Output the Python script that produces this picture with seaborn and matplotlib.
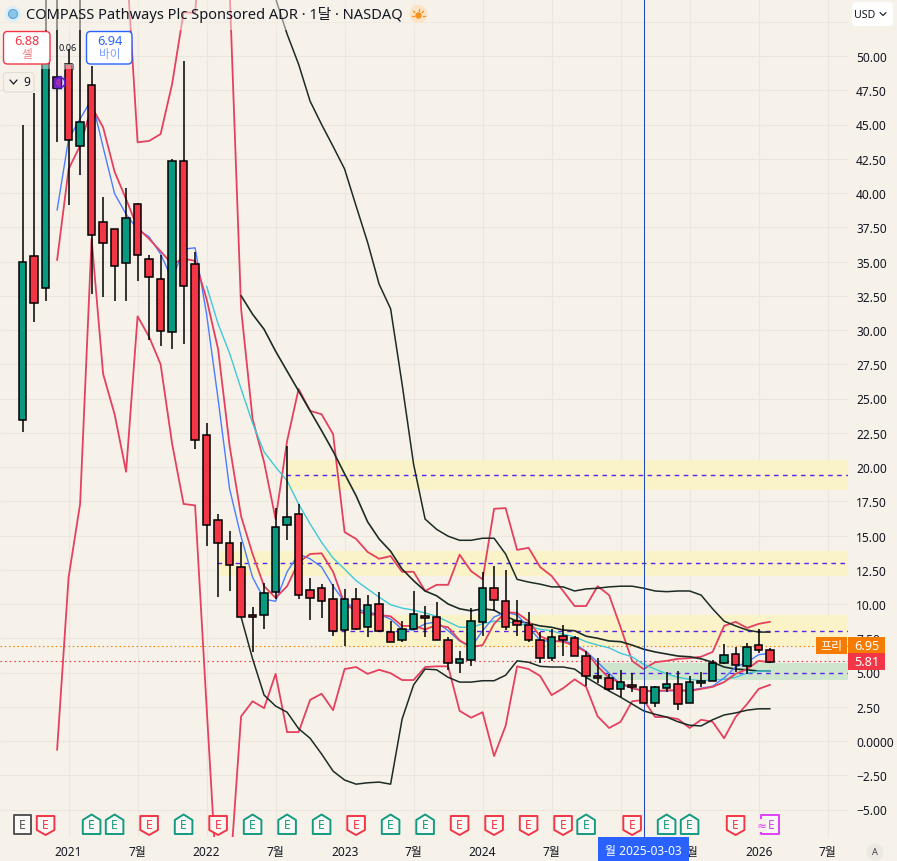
import numpy as np
import pandas as pd
import matplotlib
matplotlib.use("Agg")
import matplotlib.pyplot as plt
from matplotlib.patches import FancyBboxPatch, Polygon, Circle, Rectangle
import seaborn as sns

# ---------- data (prices; month index 0 = Jan 2021) ----------
months = list(range(-4, 62))
opens = [23.43,35.4,33.07,48.5,49.4,43.4,47.9,37.9,37.4,34.9,39.2,35.2,33.7,29.85,42.3,34.8,22.3,16.1,14.45,12.7,
         9.2,9.2,10.9,15.75,16.6,11.0,11.2,10.35,8.1,10.4,8.3,10.0,7.95,7.35,8.15,9.15,9.05,7.4,5.7,5.9,8.7,11.2,
         10.2,8.75,8.45,7.35,6.05,7.7,7.5,6.2,4.75,4.6,3.8,4.1,3.95,2.8,3.9,4.15,2.8,4.25,4.4,5.7,6.35,5.45,7.0,6.65]
highs = [45.0,47.3,70,70,50.5,60,49.3,39.7,37.4,40.4,39.3,35.5,35.5,42.5,49.6,35.7,23.2,16.6,15.3,14.5,
         9.8,11.5,17.0,21.5,17.3,11.9,11.45,11.45,11.1,11.15,10.65,10.85,8.75,8.75,10.95,9.85,10.15,7.6,6.55,9.7,12.3,12.75,
         12.5,10.3,9.4,7.95,8.15,8.5,7.7,6.55,6.05,4.9,5.2,5.0,4.0,4.0,5.05,5.1,4.75,5.05,5.9,7.1,6.85,7.15,8.15,6.8]
lows = [22.55,30.6,32.1,43.7,39.1,41.3,32.6,32.4,32.1,32.1,33.6,29.3,28.8,28.6,29.0,21.3,14.2,10.5,10.95,9.05,
        6.5,8.2,10.4,14.7,10.4,8.85,9.0,7.65,6.95,8.1,7.6,7.95,7.2,7.2,8.1,7.6,7.35,5.2,5.0,5.5,7.65,9.5,
        8.1,7.65,7.2,5.7,5.85,6.2,6.2,4.0,4.2,3.65,3.2,3.6,2.75,2.5,3.6,2.25,2.8,3.95,4.4,5.6,5.05,4.9,6.4,5.7]
closes = [34.96,32.0,50.0,47.7,43.9,45.2,36.9,36.35,34.7,38.2,35.5,33.9,29.9,42.3,33.2,22.0,15.8,14.45,12.85,9.05,
          9.05,10.8,15.6,16.35,10.65,10.45,10.2,8.0,10.35,8.2,9.9,8.0,7.2,8.2,9.3,9.0,7.35,5.7,6.0,8.75,11.2,10.3,
          8.3,8.5,7.35,6.05,7.6,7.4,6.2,4.75,4.6,3.8,4.3,3.95,2.8,3.95,4.15,2.7,4.3,4.4,5.7,6.3,5.55,6.85,6.65,5.8]

nan = float("nan")
black_upper = [nan]*19 + [75,68,60,54.2,51.6,49.4,46.7,45.0,43.4,41.75,39.05,36.4,33.35,31.55,26.05,20.2,16.2,15.45,14.95,14.65,
    14.65,14.8,14.8,13.65,11.8,11.6,11.45,11.25,11.25,10.95,11.1,11.15,11.25,11.3,11.3,11.15,10.95,10.9,10.95,10.95,10.65,
    9.65,8.75,8.4,8.1,7.95,7.95]
black_mid = [nan]*19 + [32.5,31.15,30.05,28.45,27.0,25.55,24.1,22.65,21.15,19.5,17.9,16.0,14.75,13.85,12.55,11.7,10.95,10.6,10.0,9.65,
    9.5,9.65,9.55,9.1,8.75,8.6,8.4,8.3,8.1,8.05,7.65,7.5,7.3,7.25,7.0,6.7,6.5,6.35,6.2,6.15,6.0,5.75,5.4,5.25,5.2,5.1,5.1]
black_lower = [nan]*19 + [9.05,6.0,3.35,2.55,2.1,0.9,0.2,-0.95,-2.2,-2.85,-3.15,-3.05,-3.0,-3.15,1.6,4.1,5.25,5.2,4.65,4.3,
    4.3,4.4,4.4,4.8,5.85,5.75,5.45,5.4,5.4,5.25,4.65,4.15,3.65,3.2,2.7,2.2,1.95,1.75,1.4,1.15,1.1,1.55,1.9,2.05,2.25,2.35,2.35]
red_upper = [nan]*8 + [75,57.4,43.7,43.8,44.3,47.95,53.2,53.15,64,65,54.9,31.55,23.5,20.35,16.2,21.9,25.7,24.1,23.85,22.4,15.25,
    14.75,13.8,13.3,13.5,12.35,12.35,10.95,11.4,11.4,13.6,12.4,11.8,16.95,17.0,13.95,14.1,12.7,12.05,10.95,9.85,9.85,11.3,
    10.65,8.3,5.85,5.25,5.75,5.85,6.0,6.05,6.15,6.5,8.4,8.7,8.25,8.55,8.7]
red_lower = [nan]*3 + [-0.65,11.95,17.3,36.65,26.8,23.85,19.65,31.0,29.5,27.5,21.7,17.3,17.2,2.5,-11.9,-10.2,1.8,2.9,2.4,4.9,0.65,0.65,
    3.0,3.45,2.25,5.25,5.4,4.9,5.2,4.95,4.45,4.45,5.4,5.45,5.45,2.2,1.7,2.1,-1.1,1.1,5.45,5.25,4.75,3.35,3.85,4.5,3.95,1.8,0.95,
    1.4,2.9,3.0,1.75,1.75,1.6,0.95,1.55,1.4,0.2,1.75,2.7,3.8,4.1]
red_ma = [nan]*3 + [35.1,41.75,43.45,46.3,44.8,41.55,39.55,37.45,36.65,35.75,34.8,35.2,35.05,32.25,28.6,21.55,16.4,13.65,11.3,10.45,
    11.3,13.05,13.65,13.7,12.35,10.0,9.5,9.25,9.2,9.1,8.4,8.4,8.15,8.45,8.3,7.35,6.85,7.0,8.55,9.4,9.35,8.75,7.65,7.3,7.25,6.95,
    6.5,5.45,4.6,4.25,3.85,3.65,3.65,3.7,3.7,3.65,3.8,3.95,4.3,4.9,5.25,5.85,5.75]
blue_ma = [nan]*3 + [38.75,43.95,45.4,46.85,43.35,39.95,38.45,37.35,36.8,35.55,33.7,35.9,36.0,31.15,24.95,18.4,14.9,11.95,10.35,10.2,
    12.35,13.65,13.3,12.7,11.3,10.15,9.65,9.4,9.25,8.9,8.15,8.1,8.55,8.7,8.05,7.3,6.85,8.05,9.05,9.4,9.2,8.3,7.35,7.25,7.3,7.1,
    6.55,5.75,4.95,4.15,3.85,3.7,3.65,3.65,3.7,3.7,3.85,4.0,4.6,5.4,5.75,6.3,6.4]
cyan_ma = [nan]*16 + [33.2,30.45,28.3,25.7,23.2,21.1,20.0,19.0,17.3,15.85,14.5,13.35,12.55,11.7,11.1,10.5,9.95,9.7,9.55,9.35,9.1,
    8.7,8.3,8.3,8.55,8.75,8.7,8.6,8.4,8.15,8.05,7.8,7.6,7.25,7.0,6.8,6.4,6.15,5.6,5.25,4.9,4.65,4.5,4.4,4.45,4.5,4.65,4.95,5.1,5.1]

zone_starts = [18.9, 12.9, 22.9, 44.9]
zone_lows = [18.3, 12.05, 6.95, 4.45]
zone_highs = [20.5, 13.85, 9.2, 5.7]
zone_levels = [19.4, 13.0, 8.0, 5.0]
zone_colors = ["#fbf3c8", "#fbf3c8", "#fbf3c8", "#cfe5cd"]

price_pre = 6.95
price_last = 5.81
cross_month = 50
y_ticks = [52.5,50,47.5,45,42.5,40,37.5,35,32.5,30,27.5,25,22.5,20,17.5,15,12.5,10,7.5,5,2.5,0,-2.5,-5]
y_labels = ["","50.00","47.50","45.00","42.50","40.00","37.50","35.00","32.50","30.00","27.50","25.00","22.50",
            "20.00","17.50","15.00","12.50","10.00","7.50","5.00","2.50","0.0000","−2.50","−5.00"]
x_ticks = [0,6,12,18,24,30,36,42,48,54,60,66]
x_labels = ["2021","7월","2022","7월","2023","7월","2024","7월","2025","7월","2026","7월"]
earn_months = [-4,-2,2,4,7,10,13,16,19,22,25,28,31,34,37,40,43,45,49,52,54,58,61]
earn_kinds = ["n","r","g","g","r","g","r","g","g","g","r","g","g","r","r","r","r","g","r","g","g","r","p"]

# ---------- style ----------
BG = "#f6f2ea"; GRID = "#ebe7df"; INK = "#131722"
RED = "#f23645"; GREEN = "#089981"; LINE_RED = "#e5405e"; BLUE = "#2962ff"
sns.set_theme(style="whitegrid", rc={"axes.facecolor": BG, "figure.facecolor": BG, "grid.color": GRID,
                                     "grid.linewidth": 0.75, "axes.edgecolor": BG})
plt.rcParams["font.family"] = ["Noto Sans", "Noto Sans CJK KR", "DejaVu Sans"]

W, H = 897, 862
PANE_R, PANE_B = 848, 838
X0, XS = 68.6, 11.5
fig = plt.figure(figsize=(W/100, H/100), dpi=100)
ax = fig.add_axes([0, (H-PANE_B)/H, PANE_R/W, PANE_B/H])
ax.set_axisbelow(True)
sns.despine(ax=ax, left=True, bottom=True, right=True, top=True)
xr = (PANE_R-X0)/XS

# zones
for s, lo, hi, lv, col in zip(zone_starts, zone_lows, zone_highs, zone_levels, zone_colors):
    ax.add_patch(Rectangle((s, lo), xr - s, hi - lo, facecolor=col, edgecolor="none", zorder=1))
    ax.plot([s, xr], [lv, lv], color="#5a22f0", lw=1.0, dashes=(3.3, 3.2), zorder=1.2)

# dotted price lines
ax.axhline(price_pre, color="#f08a00", lw=0.85, dashes=(1.3, 2.3), zorder=1.3)
ax.axhline(price_last, color=RED, lw=0.85, dashes=(1.3, 2.6), zorder=1.3)

# indicators
series = [(red_upper, LINE_RED, 1.3), (red_lower, LINE_RED, 1.3), (black_upper, "#1c2b26", 1.1),
          (black_mid, "#1c2b26", 1.2), (black_lower, "#1c2b26", 1.1), (cyan_ma, "#3fc9d6", 1.0),
          (blue_ma, "#4a7dff", 1.0), (red_ma, LINE_RED, 1.3)]
for vals, col, lw in series:
    d = pd.DataFrame({"month": months, "price": vals}).dropna()
    sns.lineplot(data=d, x="month", y="price", color=col, linewidth=lw, ax=ax, legend=False,
                 estimator=None, errorbar=None, zorder=2)

# crosshair
ax.axvline(cross_month, color="#2449b0", lw=0.75, zorder=2.5)

# candles
c = pd.DataFrame({"month": months, "o": opens, "h": highs, "l": lows, "c": closes})
cols = [GREEN if b > a else RED for a, b in zip(c.o, c.c)]
ax.vlines(c.month, c.l, c.h, color="black", lw=1.1, zorder=4)
ax.bar(c.month, (c.c - c.o).abs(), bottom=c[["o", "c"]].min(axis=1), width=0.66, color=cols,
       edgecolor="black", linewidth=1.1, zorder=5)

# axes ticks and labels
ax.set_xlabel(""); ax.set_ylabel("")
ax.yaxis.tick_right()
ax.set_yticks(y_ticks); ax.set_yticklabels(y_labels)
ax.set_xticks(x_ticks); ax.set_xticklabels(x_labels)
ax.tick_params(axis="y", length=0, pad=5.8, labelsize=8.6, labelcolor=INK)
ax.tick_params(axis="x", length=0, pad=5.8, labelsize=8.6, labelcolor=INK)
for t, s in zip(ax.get_xticklabels(), x_labels):
    if not s.endswith("월"):
        t.set_fontweight("bold")
ax.set_xlim((0-X0)/XS, xr)
ax.set_ylim((742-PANE_B)/13.7, 742/13.7)

# ---------- overlay in pixel space for chart furniture ----------
ov = fig.add_axes([0, 0, 1, 1], zorder=10)
ov.set_xlim(0, W); ov.set_ylim(H, 0); ov.axis("off"); ov.patch.set_alpha(0)

def box(x0, y0, x1, y1, fc, ec="none", lw=1.0, r=4, z=5):
    ov.add_patch(FancyBboxPatch((x0+r, y0+r), x1-x0-2*r, y1-y0-2*r, boxstyle=f"round,pad={r}",
                                fc=fc, ec=ec, lw=lw, zorder=z))

fig.canvas.draw()
def mx(m):
    return ax.transData.transform((m, 0))[0]
def py(p):
    return H - ax.transData.transform((0, p))[1]

# legend veil and title
ov.add_patch(Rectangle((0, 0), 432, 31, fc=BG, ec="none", alpha=0.5, zorder=2))
ov.add_patch(Circle((13, 15), 8, fc="#dbeef8", ec="none", zorder=3))
ov.add_patch(Circle((13, 15), 4.5, fc="#8cc6e6", ec="#5aa7d6", lw=0.8, zorder=3.1))
ov.text(26, 15, "COMPASS Pathways Plc Sponsored ADR · 1달 · NASDAQ", fontsize=10.55, color=INK, va="center", ha="left", zorder=4)
ov.add_patch(Circle((418.5, 15), 9, fc="#fde3c6", ec="none", zorder=3))
ov.add_patch(Circle((418.5, 16.5), 3.2, fc="#f5921e", ec="none", zorder=3.1))
for a in np.deg2rad([0, 40, 90, 140, 180]):
    ov.plot([418.5+4.5*np.cos(a), 418.5+6.5*np.cos(a)], [16.5-4.5*np.sin(a), 16.5-6.5*np.sin(a)],
            color="#f5921e", lw=1.0, zorder=3.1)

# buy / sell
box(3.5, 32.5, 50, 65, "white", RED, 1.0, 4)
ov.text(26.7, 41.5, "6.88", color=RED, fontsize=9.2, ha="center", va="center", zorder=6, fontweight="medium")
ov.text(26.7, 55.5, "셀", color="#f77c80", fontsize=8.4, ha="center", va="center", zorder=6)
box(86.5, 32.5, 132, 65, "white", BLUE, 1.0, 4)
ov.text(110, 41.5, "6.94", color=BLUE, fontsize=9.2, ha="center", va="center", zorder=6, fontweight="medium")
ov.text(110, 55.5, "바이", color="#7b9fff", fontsize=8.4, ha="center", va="center", zorder=6)
ov.text(68, 48.5, "0.06", color=INK, fontsize=6.6, ha="center", va="center", zorder=6)
ov.add_patch(Rectangle((mx(0)-4.2, 65), 8.4, 5, fc="white", ec="none", alpha=0.4, zorder=4))
ov.add_patch(Rectangle((mx(-2)-4.2, 65), 8.4, 5, fc="white", ec="none", alpha=0.4, zorder=4))
ov.plot([mx(0)-4.2, mx(0)-4.2, mx(0)+4.2, mx(0)+4.2], [70, 65, 65, 70], color="#8a8a8a", lw=0.8, zorder=4.5)
box(3.5, 73.5, 34, 93, BG, "#e2ded6", 0.8, 3)
ov.plot([10, 13.5, 17], [81, 85, 81], color=INK, lw=0.9, zorder=6)
ov.text(26.5, 83, "9", color=INK, fontsize=8.6, ha="center", va="center", zorder=6)

# purple marker on the candle
ov.add_patch(Rectangle((52.5, 77.5), 8.5, 11, fc="#a62ba0", ec="#1b1030", lw=1.0, zorder=5))
ov.add_patch(Circle((60, 83.5), 7.5, fc="#7b3ff2", ec="none", alpha=0.18, zorder=5.2))
ov.add_patch(Circle((60, 83.5), 5, fc="none", ec="#5a1fe0", lw=1.1, zorder=5.3))

# earnings markers
EC = {"n": "#555555", "r": RED, "g": "#139a80", "p": "#e040fb"}
for m, k in zip(earn_months, earn_kinds):
    x = mx(m); col = EC[k]
    if k == "g":
        pts = [(x, 815.5), (x+8.8, 821), (x+8.8, 835), (x-8.8, 835), (x-8.8, 821)]
    elif k == "r":
        pts = [(x-8.8, 817), (x+8.8, 817), (x+8.8, 831), (x, 836), (x-8.8, 831)]
    else:
        pts = [(x-8.8, 816.5), (x+8.8, 816.5), (x+8.8, 835), (x-8.8, 835)]
    ov.add_patch(Polygon(pts, closed=True, fc="#fbf9f5", ec=col, lw=1.4, joinstyle="round", zorder=5))
    ov.text(x + (1.5 if k == "p" else 0), 826, "E", color=col, fontsize=8.8, ha="center", va="center", zorder=6)
    if k == "p":
        ov.text(x-8.5, 827, "≈", color=col, fontsize=8.6, ha="center", va="center", zorder=6.5,
                family=["DejaVu Sans"], bbox=dict(fc=BG, ec="none", pad=0))

# crosshair label
ov.add_patch(Rectangle((597.5, 838), 91.5, 24, fc=BLUE, ec="none", zorder=5))
ov.text(643, 852, "월 2025-03-03", color="white", fontsize=8.6, fontweight="medium", ha="center", va="center", zorder=6)

# price labels
p_top = py(price_pre)
ov.add_patch(Rectangle((816, p_top-8.5), 31, 17, fc="#f57c00", ec="none", zorder=5))
ov.text(831.5, p_top, "프리", color="white", fontsize=8.6, ha="center", va="center", zorder=6)
ov.add_patch(Rectangle((848, p_top-8.5), 37, 17, fc="#f57c00", ec="none", zorder=5))
ov.text(866.5, p_top, f"{price_pre:.2f}", color="white", fontsize=9.2, fontweight="medium", ha="center", va="center", zorder=6)
p_low = py(price_last)
ov.add_patch(Rectangle((848, p_low-8.5), 37, 17, fc=RED, ec="none", zorder=5))
ov.text(866.5, p_low, f"{price_last:.2f}", color="white", fontsize=9.2, fontweight="medium", ha="center", va="center", zorder=6)

# USD and auto buttons
box(852, 3, 893, 27, "white", "none", 0, 4)
ov.text(865, 15, "USD", color=INK, fontsize=7.6, ha="center", va="center", zorder=6)
ov.plot([880, 883, 886], [13.5, 16.5, 13.5], color=INK, lw=0.8, zorder=6)
ov.add_patch(Circle((875, 853), 8.5, fc="#ece9e2", ec="none", zorder=4))
ov.text(875, 853, "A", color="#444444", fontsize=6.6, ha="center", va="center", zorder=6)

fig.savefig("out.png", dpi=100, facecolor=BG)
